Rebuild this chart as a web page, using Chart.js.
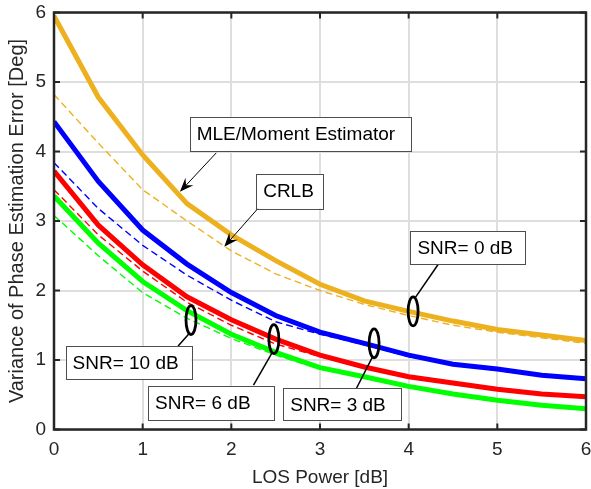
<!DOCTYPE html>
<html>
<head>
<meta charset="utf-8">
<script src="https://cdn.jsdelivr.net/npm/chart.js@4.4.1/dist/chart.umd.min.js"></script>
<style>
  body { margin: 0; background: #fff; }
  canvas { display: block; }
</style>
</head>
<body>
<canvas id="phaseChart" width="591" height="489"></canvas>
<script>
// LOS power [dB]
const losPower = [0, 0.5, 1, 1.5, 2, 2.5, 3, 3.5, 4, 4.5, 5, 5.5, 6];

// MLE / moment estimator (solid) and CRLB (dashed) per SNR
const mle0 = [5.95, 4.78, 3.95, 3.25, 2.80, 2.43, 2.09, 1.85, 1.70, 1.56, 1.44, 1.36, 1.28];
const crlb0 = [4.82, 4.12, 3.45, 3.00, 2.57, 2.24, 2.00, 1.80, 1.64, 1.50, 1.40, 1.32, 1.24];
const mle3 = [4.43, 3.57, 2.87, 2.38, 1.97, 1.64, 1.40, 1.24, 1.07, 0.94, 0.87, 0.78, 0.73];
const crlb3 = [3.84, 3.18, 2.65, 2.22, 1.86, 1.55, 1.37, 1.22, 1.05, 0.93, 0.85, 0.77, 0.72];
const mle6 = [3.72, 2.94, 2.37, 1.91, 1.58, 1.30, 1.07, 0.90, 0.76, 0.67, 0.58, 0.51, 0.47];
const crlb6 = [3.45, 2.80, 2.28, 1.83, 1.50, 1.23, 1.05, 0.88, 0.75, 0.65, 0.57, 0.50, 0.46];
const mle10 = [3.36, 2.68, 2.13, 1.71, 1.37, 1.11, 0.89, 0.76, 0.62, 0.51, 0.42, 0.35, 0.30];
const crlb10 = [3.08, 2.50, 1.97, 1.60, 1.31, 1.07, 0.87, 0.74, 0.60, 0.50, 0.41, 0.34, 0.29];

const xTicks = [0, 1, 2, 3, 4, 5, 6];
const yTicks = [0, 1, 2, 3, 4, 5, 6];

const FONT = '"Liberation Sans", Arial, Helvetica, sans-serif';
const AXIS = '#262626';

const toPoints = ys => ys.map((v, i) => ({x: losPower[i], y: v}));

const solid = (data, color) => ({
    data: toPoints(data), borderColor: color, borderWidth: 5,
    pointRadius: 0, tension: 0, fill: false, order: 1
});
const dashed = (data, color) => ({
    data: toPoints(data), borderColor: color, borderWidth: 1.4, borderDash: [7, 4],
    pointRadius: 0, tension: 0, fill: false, order: 0
});

// text boxes: [x left, y top, x right, y bottom] in data units
const notes = [
    {text: 'MLE/Moment Estimator', box: [1.53, 4.50, 4.02, 4.01]},
    {text: 'CRLB', box: [2.28, 3.68, 3.04, 3.18]},
    {text: 'SNR= 0 dB', box: [4.02, 2.85, 5.32, 2.37]},
    {text: 'SNR= 3 dB', box: [2.585, 0.59, 3.92, 0.13]},
    {text: 'SNR= 6 dB', box: [1.06, 0.63, 2.48, 0.14]},
    {text: 'SNR= 10 dB', box: [0.13, 1.20, 1.55, 0.72]}
];
// arrows [from x, from y, to x, to y]
const arrows = [
    [1.83, 3.98, 1.42, 3.42],
    [2.30, 3.18, 1.92, 2.63]
];
// ellipse markers: centre (x, y) and leader line start (x, y)
const rings = [
    {c: [4.05, 1.70], from: [4.33, 2.37]},
    {c: [3.61, 1.24], from: [3.41, 0.59]},
    {c: [2.48, 1.30], from: [2.25, 0.64]},
    {c: [1.545, 1.575], from: [1.40, 1.20]}
];

const overlay = {
    id: 'overlay',
    afterDatasetsDraw(chart) {
        const {ctx, chartArea: a, scales: {x, y}} = chart;
        ctx.save();
        // axes box + inward ticks
        ctx.strokeStyle = AXIS;
        ctx.lineWidth = 2.5;
        ctx.strokeRect(a.left, a.top, a.right - a.left, a.bottom - a.top);
        ctx.lineWidth = 2;
        ctx.beginPath();
        xTicks.forEach(t => {
            const px = x.getPixelForValue(t);
            ctx.moveTo(px, a.bottom); ctx.lineTo(px, a.bottom - 6);
            ctx.moveTo(px, a.top); ctx.lineTo(px, a.top + 6);
        });
        yTicks.forEach(t => {
            const py = y.getPixelForValue(t);
            ctx.moveTo(a.left, py); ctx.lineTo(a.left + 6, py);
            ctx.moveTo(a.right, py); ctx.lineTo(a.right - 6, py);
        });
        ctx.stroke();

        // leader lines and rings
        ctx.strokeStyle = '#000';
        rings.forEach(r => {
            const cx = x.getPixelForValue(r.c[0]), cy = y.getPixelForValue(r.c[1]);
            const fx = x.getPixelForValue(r.from[0]), fy = y.getPixelForValue(r.from[1]);
            const ang = Math.atan2(fx - cx, -(fy - cy));
            ctx.lineWidth = 1.5;
            ctx.beginPath();
            ctx.moveTo(fx, fy);
            const ex = cx + 5 * Math.sin(ang), ey = cy + (fy > cy ? 14 : -14);
            ctx.lineTo(ex, ey);
            ctx.stroke();
            ctx.lineWidth = 2.8;
            ctx.beginPath();
            ctx.ellipse(cx, cy, 5, 14.5, 0, 0, Math.PI * 2);
            ctx.stroke();
        });

        // arrows
        arrows.forEach(([x0, y0, x1, y1]) => {
            const px0 = x.getPixelForValue(x0), py0 = y.getPixelForValue(y0);
            const px1 = x.getPixelForValue(x1), py1 = y.getPixelForValue(y1);
            const ang = Math.atan2(py1 - py0, px1 - px0);
            const len = 14, half = 5.5, back = 9;
            ctx.lineWidth = 1;
            ctx.beginPath();
            ctx.moveTo(px0, py0);
            ctx.lineTo(px1 - back * Math.cos(ang), py1 - back * Math.sin(ang));
            ctx.stroke();
            ctx.save();
            ctx.translate(px1, py1);
            ctx.rotate(ang);
            ctx.fillStyle = '#000';
            ctx.beginPath();
            ctx.moveTo(0, 0);
            ctx.lineTo(-len, -half);
            ctx.lineTo(-back, 0);
            ctx.lineTo(-len, half);
            ctx.closePath();
            ctx.fill();
            ctx.restore();
        });

        // text boxes
        ctx.font = '19px ' + FONT;
        ctx.textBaseline = 'middle';
        ctx.textAlign = 'left';
        notes.forEach(n => {
            const l = x.getPixelForValue(n.box[0]), t = y.getPixelForValue(n.box[1]);
            const r = x.getPixelForValue(n.box[2]), b = y.getPixelForValue(n.box[3]);
            ctx.fillStyle = '#fff';
            ctx.fillRect(l, t, r - l, b - t);
            ctx.strokeStyle = '#4d4d4d';
            ctx.lineWidth = 1;
            ctx.strokeRect(Math.round(l) + 0.5, Math.round(t) + 0.5, Math.round(r - l), Math.round(b - t));
            ctx.fillStyle = '#000';
            ctx.fillText(n.text, l + 7, (t + b) / 2 + 1);
        });
        ctx.restore();
    }
};

new Chart(document.getElementById('phaseChart'), {
    type: 'line',
    data: {
        datasets: [
            dashed(crlb0, '#EDB120'),
            dashed(crlb3, '#0000FF'),
            dashed(crlb6, '#FF0000'),
            dashed(crlb10, '#00FF00'),
            solid(mle0, '#EDB120'),
            solid(mle3, '#0000FF'),
            solid(mle6, '#FF0000'),
            solid(mle10, '#00FF00')
        ]
    },
    options: {
        responsive: false,
        animation: false,
        layout: {padding: {top: 12.5, right: 5, left: 0, bottom: 0}},
        plugins: {legend: {display: false}, tooltip: {enabled: false}},
        scales: {
            x: {
                type: 'linear', min: 0, max: 6,
                afterBuildTicks: s => { s.ticks = xTicks.map(v => ({value: v})); },
                afterFit: s => { s.height = 59.5; s.paddingLeft = 0; s.paddingRight = 0; },
                grid: {color: '#dedede', lineWidth: 2, drawTicks: false},
                border: {display: false},
                ticks: {color: AXIS, padding: 8.5, font: {family: FONT, size: 19, lineHeight: 1.2}},
                title: {display: true, text: 'LOS Power [dB]', color: AXIS, padding: {top: 0, bottom: 0},
                        font: {family: FONT, size: 19, lineHeight: 1.2}}
            },
            y: {
                type: 'linear', min: 0, max: 6,
                afterBuildTicks: s => { s.ticks = yTicks.map(v => ({value: v})); },
                afterFit: s => { s.width = 54; s.paddingTop = 0; s.paddingBottom = 0; },
                grid: {color: '#dedede', lineWidth: 2, drawTicks: false},
                border: {display: false},
                ticks: {color: AXIS, padding: 8, font: {family: FONT, size: 19, lineHeight: 1.2}},
                title: {display: true, text: 'Variance of Phase Estimation Error [Deg]', color: AXIS,
                        padding: {top: 5.5, bottom: 0}, font: {family: FONT, size: 20, lineHeight: 1.2}}
            }
        }
    },
    plugins: [overlay]
});
</script>
</body>
</html>
